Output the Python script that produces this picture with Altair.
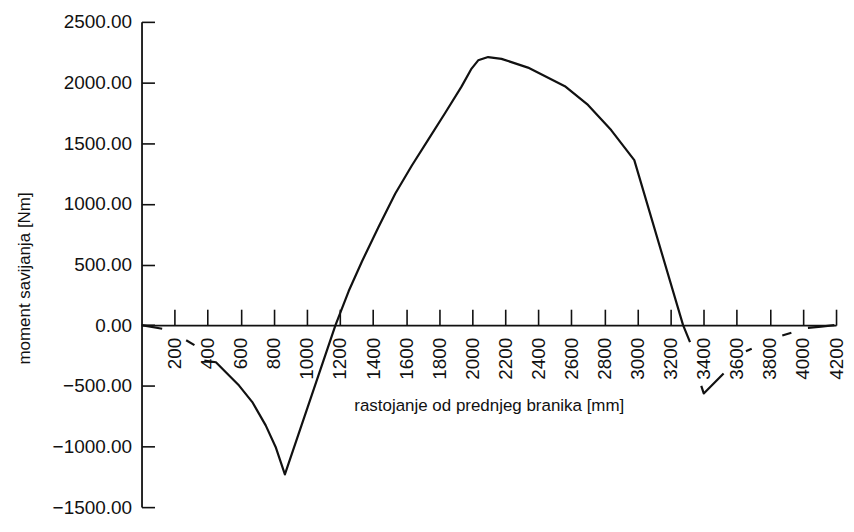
import altair as alt
import pandas as pd

# Visible pieces of the bending-moment curve (segment id, distance [mm], moment [Nm])
seg_a_x = [0, 125]
seg_a_y = [0, -30]
seg_b_x = [270, 320]
seg_b_y = [-125, -165]
seg_c_x = [380, 450, 510, 590, 670, 751, 811, 867, 1173, 1253, 1333, 1434, 1534,
           1634, 1735, 1836, 1935, 1996, 2036, 2096, 2177, 2337, 2560, 2700, 2840,
           2980, 3275, 3317]
seg_c_y = [-293, -306, -388, -498, -634, -826, -1004, -1230, 0, 281, 525, 811, 1083,
           1314, 1531, 1749, 1966, 2115, 2183, 2210, 2195, 2123, 1970, 1815, 1608,
           1360, 0, -140]
seg_d_x = [3385, 3400, 3520]
seg_d_y = [-500, -563, -399]
seg_e_x = [3655, 3690]
seg_e_y = [-215, -195]
seg_f_x = [3875, 3930]
seg_f_y = [-85, -62]
seg_g_x = [4030, 4110, 4190]
seg_g_y = [-22, -12, 0]

x_ticks = list(range(200, 4201, 200))
y_ticks = [-1500, -1000, -500, 0, 500, 1000, 1500, 2000, 2500]

x_title = "rastojanje od prednjeg branika [mm]"
y_title = "moment savijanja [Nm]"

rows = []
for name, xs, ys in [("a", seg_a_x, seg_a_y), ("b", seg_b_x, seg_b_y),
                     ("c", seg_c_x, seg_c_y), ("d", seg_d_x, seg_d_y),
                     ("e", seg_e_x, seg_e_y), ("f", seg_f_x, seg_f_y),
                     ("g", seg_g_x, seg_g_y)]:
    for i, (xv, yv) in enumerate(zip(xs, ys)):
        rows.append({"seg": name, "i": i, "x": xv, "y": yv})
df = pd.DataFrame(rows)

W, H = 697, 487
y0_from_top = H * 2500 / 4000
FONT = "Liberation Sans"
INK = "#111111"

xscale = alt.Scale(domain=[0, 4200], nice=False, zero=False)
yscale = alt.Scale(domain=[-1500, 2500], nice=False, zero=False)

line = alt.Chart(df).mark_line(color=INK, strokeWidth=2.2, strokeJoin="round").encode(
    x=alt.X("x:Q", scale=xscale, axis=alt.Axis(
        orient="bottom", offset=-(H - y0_from_top), values=x_ticks, format="d",
        ticks=False, labelAngle=270, labelPadding=12, labelFontSize=19,
        labelFont=FONT, labelColor=INK, domainColor=INK, domainWidth=1.8,
        grid=False, title=x_title, titleFont=FONT, titleFontSize=17,
        titleFontWeight="normal", titleColor=INK, titlePadding=18,
        labelOverlap=False, labelFlush=False)),
    y=alt.Y("y:Q", scale=yscale, axis=alt.Axis(
        orient="left", values=y_ticks, format=".2f", ticks=False,
        labelPadding=10, labelFontSize=19, labelFont=FONT, labelColor=INK,
        domainColor=INK, domainWidth=1.8, grid=False, title=y_title,
        titleFont=FONT, titleFontSize=17, titleFontWeight="normal",
        titleColor=INK, titleX=-117, titleY=257, titleAlign="center",
        titleBaseline="middle", labelOverlap=False, labelFlush=False)),
    detail="seg:N",
    order="i:Q",
)

tick_df = pd.DataFrame({"x": [0, 4200], "y": [-1500, 2500]})
tick_layer = alt.Chart(tick_df).mark_point(opacity=0).encode(
    x=alt.X("x:Q", scale=xscale, axis=alt.Axis(
        orient="top", offset=-y0_from_top, values=x_ticks, labels=False,
        domain=False, ticks=True, tickSize=16, tickWidth=1.6, tickColor=INK,
        grid=False, title=None)),
    y=alt.Y("y:Q", scale=yscale, axis=alt.Axis(
        orient="right", offset=-W, values=y_ticks, labels=False,
        domain=False, ticks=True, tickSize=13, tickWidth=1.6, tickColor=INK,
        grid=False, title=None)),
)

chart = alt.layer(line, tick_layer).resolve_axis(
    x="independent", y="independent"
).properties(
    width=W, height=H,
    autosize=alt.AutoSizeParams(type="none"),
    padding={"left": 134, "top": 13, "right": 10, "bottom": 10},
    background="white",
).configure_view(stroke=None)

chart.save("out.html", embed_options={"renderer": "svg", "actions": False})
